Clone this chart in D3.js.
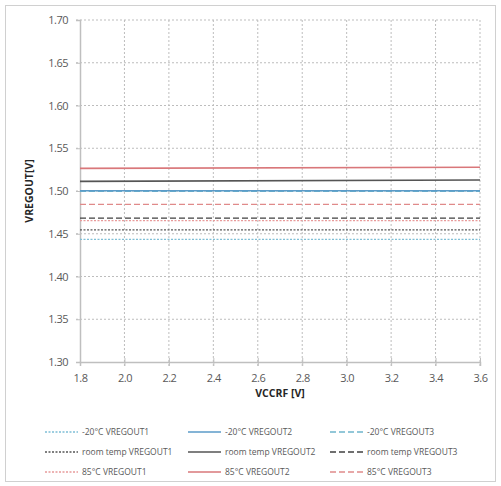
<!DOCTYPE html>
<html><head><meta charset="utf-8">
<script src="https://cdn.jsdelivr.net/npm/d3@7"></script>
<style>body{margin:0;background:#fff}svg{display:block}text{font-family:"Open Sans","DejaVu Sans",sans-serif}</style>
</head><body><svg id="c" width="501" height="486"></svg>
<script>
const xTicks = [1.8,2.0,2.2,2.4,2.6,2.8,3.0,3.2,3.4,3.6];
const yTicks = [1.30,1.35,1.40,1.45,1.50,1.55,1.60,1.65,1.70];
const xVals = [1.8,3.6];
const seriesNames = ["-20°C VREGOUT1","-20°C VREGOUT2","-20°C VREGOUT3",
  "room temp VREGOUT1","room temp VREGOUT2","room temp VREGOUT3",
  "85°C VREGOUT1","85°C VREGOUT2","85°C VREGOUT3"];
const m20_1 = [1.4435,1.4435];
const m20_2 = [1.5003,1.5003];
const m20_3 = [1.4995,1.4995];
const rt_1 = [1.4545,1.4545];
const rt_2 = [1.5112,1.5128];
const rt_3 = [1.4683,1.4683];
const h85_1 = [1.4653,1.4653];
const h85_2 = [1.5265,1.5278];
const h85_3 = [1.4843,1.4843];
const seriesValues = [m20_1,m20_2,m20_3,rt_1,rt_2,rt_3,h85_1,h85_2,h85_3];
const colors = ["#7fbfd6","#5b9bc8","#6fb5cc","#555555","#555555","#404040","#e89a9a","#d9777a","#e08a8a"];
const dashes = ["2,1.5",null,"6,3","2,1.5",null,"6,3","2,1.5",null,"6,3"];
const widths = [1.3,1.6,1.3,1.3,1.6,1.4,1.3,1.6,1.3];

const svg = d3.select("#c");
svg.append("rect").attr("x",5.5).attr("y",5.5).attr("width",490).attr("height",476)
  .attr("fill","#fff").attr("stroke","#d0d0d0");
const x = d3.scaleLinear().domain([1.8,3.6]).range([80,480]);
const y = d3.scaleLinear().domain([1.30,1.70]).range([362,20]);

// gridlines
svg.append("g").selectAll("line").data(yTicks.slice(1)).join("line")
  .attr("x1",76).attr("x2",480).attr("y1",d=>y(d)).attr("y2",d=>y(d))
  .attr("stroke","#bdbdbd").attr("stroke-dasharray","2,2");
svg.append("g").selectAll("line").data(xTicks.slice(1)).join("line")
  .attr("y1",20).attr("y2",366).attr("x1",d=>x(d)).attr("x2",d=>x(d))
  .attr("stroke","#bdbdbd").attr("stroke-dasharray","2,2");

const ya = svg.append("g").attr("transform","translate(80,0)")
  .call(d3.axisLeft(y).tickValues(yTicks).tickFormat(d3.format(".2f")).tickSize(4).tickPadding(8));
const xa = svg.append("g").attr("transform","translate(0,362)")
  .call(d3.axisBottom(x).tickValues(xTicks).tickFormat(d3.format(".1f")).tickSize(4).tickPadding(8));
[ya,xa].forEach(a=>{
  a.selectAll(".domain").attr("stroke","#bfbfbf").attr("stroke-width",1.5);
  a.selectAll(".tick line").attr("stroke","#bfbfbf");
  a.selectAll("text").attr("fill","#595959").attr("font-size",11).style("letter-spacing","-0.5px");
});
xa.selectAll(".tick line").attr("y1",-4).attr("y2",4);

svg.append("text").attr("x",280).attr("y",397).attr("text-anchor","middle")
  .attr("font-size",10.5).attr("font-weight","bold").attr("fill","#262626").text("VCCRF [V]");
svg.append("text").attr("transform","translate(33,191) rotate(-90)").attr("text-anchor","middle")
  .attr("font-size",10.5).attr("font-weight","bold").attr("fill","#262626").text("VREGOUT[V]");

const line = d3.line().x((d,i)=>x(xVals[i])).y(d=>y(d));
const order = [6,3,0,8,5,2,7,4,1];
svg.append("g").selectAll("path").data(order).join("path")
  .attr("d",i=>line(seriesValues[i])).attr("fill","none")
  .attr("stroke",i=>colors[i]).attr("stroke-width",i=>widths[i])
  .attr("stroke-dasharray",i=>dashes[i]);

// legend
const colX = [45,188,330], rowY = [432,452,472];
const lg = svg.append("g").selectAll("g").data(seriesNames).join("g")
  .attr("transform",(d,i)=>`translate(${colX[i%3]},${rowY[Math.floor(i/3)]})`);
lg.append("line").attr("x1",0).attr("x2",33).attr("y1",0).attr("y2",0)
  .attr("stroke",(d,i)=>colors[i]).attr("stroke-width",(d,i)=>widths[i])
  .attr("stroke-dasharray",(d,i)=>dashes[i]);
lg.append("text").attr("x",37).attr("y",3).attr("font-size",8.5).attr("fill","#595959").text(d=>d);
</script></body></html>
